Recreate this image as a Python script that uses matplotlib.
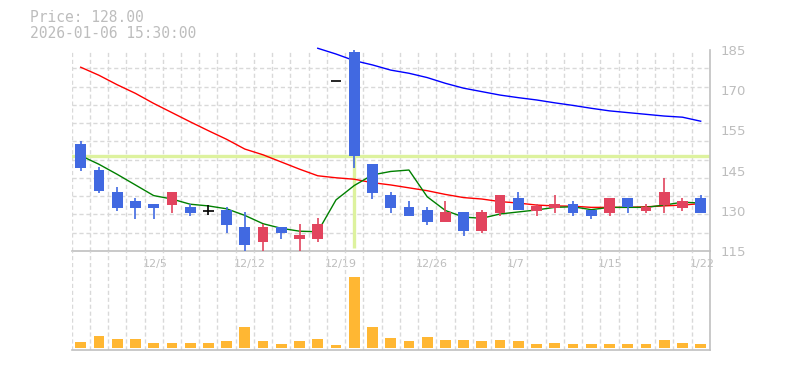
import matplotlib
matplotlib.use("Agg")
import matplotlib.pyplot as plt
import matplotlib.transforms as mtransforms
import numpy as np

# ==========================================
# DATA (daily candles, 2025-12-01 .. 2026-01-22)
# ==========================================
opens = [152.3, 143.3, 135.5, 132.4, 131.4, 131.1, 130.4, 129.0, 129.3, 123.4,
         118.1, 123.4, 119.3, 119.3, 174.2, 184.3, 145.3, 134.5, 130.3, 129.3,
         125.1, 128.6, 122.1, 128.3, 133.5, 129.0, 130.1, 131.4, 129.3, 128.3,
         133.5, 129.0, 131.1, 130.1, 133.5]
highs = [153.3, 144.3, 137.3, 133.5, 131.4, 135.5, 131.4, 131.1, 130.3, 128.6,
         124.5, 123.4, 124.4, 126.5, 174.2, 185.0, 145.3, 135.5, 132.4, 130.3,
         132.4, 128.6, 129.3, 134.5, 135.5, 131.3, 134.5, 132.4, 129.3, 133.5,
         133.5, 131.4, 140.5, 133.5, 134.5]
lows = [143.0, 135.3, 129.0, 126.3, 126.3, 128.3, 127.3, 127.4, 121.4, 115.1,
        115.1, 119.3, 115.1, 118.1, 174.2, 144.0, 133.2, 128.3, 127.3, 124.2,
        125.1, 120.3, 121.4, 127.3, 129.2, 127.3, 128.3, 127.3, 126.3, 127.3,
        128.3, 128.3, 128.3, 129.0, 128.3]
closes = [144.0, 136.0, 130.1, 130.1, 130.1, 135.5, 128.3, 129.0, 124.2, 117.2,
          123.4, 121.4, 120.6, 124.5, 174.2, 148.2, 135.3, 130.1, 127.3, 125.2,
          128.6, 122.1, 128.6, 134.5, 129.2, 130.6, 131.4, 128.3, 127.3, 133.5,
          130.2, 130.3, 135.5, 132.4, 128.3]
volumes = [60, 120, 90, 90, 50, 50, 50, 50, 70, 210,
           70, 40, 70, 90, 30, 710, 210, 100, 70, 110,
           80, 80, 70, 80, 70, 40, 50, 40, 40, 40,
           40, 40, 80, 50, 40]

ma_short = [148.2, 145.2, 141.7, 138.0, 134.3, 133.1, 131.3, 130.7, 129.7, 127.4,
            124.5, 122.9, 121.9, 121.7, 132.8, 137.8, 141.5, 142.7, 143.2, 133.9,
            129.1, 126.8, 126.4, 127.9, 128.6, 129.3, 130.2, 130.4, 129.4, 130.2,
            130.2, 130.2, 131.0, 132.0, 131.7]
ma_mid = [179.0, 176.2, 172.9, 169.9, 166.4, 163.2, 160.0, 156.9, 153.9, 150.5,
          148.5, 146.0, 143.5, 141.2, 140.5, 140.0, 138.8, 138.0, 137.0, 136.0,
          134.7, 133.6, 133.1, 132.2, 131.7, 131.0, 130.7, 130.6, 130.2, 130.2,
          130.2, 130.4, 130.7, 131.0, 131.5]
ma_long = [np.nan] * 13 + [185.6, 183.6, 181.3, 179.8, 178.0, 176.9, 175.4, 173.4,
                           171.7, 170.5, 169.3, 168.4, 167.6, 166.6, 165.7, 164.7,
                           163.8, 163.2, 162.6, 162.0, 161.6, 160.2]

x_tick_idx = [4, 9, 14, 19, 24, 29, 34]
x_tick_labels = ["12/5", "12/12", "12/19", "12/26", "1/7", "1/15", "1/22"]
y_tick_values = [115, 129, 143, 157, 171, 185]
y_tick_labels = ["115", "130", "145", "155", "170", "185"]
highlight_idx = 15

header_lines = ["Price: 128.00", "2026-01-06 15:30:00"]

# ==========================================
# STYLE
# ==========================================
UP = "#E2445E"
DOWN = "#4169E1"
VOL = "#FFB733"
GRID = "#d9d9d9"
FRAME = "#c0c0c0"
TEXT = "#bdbdbd"
MARK = "#DDF29E"
W, H, DPI = 785, 370, 100


def main() -> None:
    fig = plt.figure(figsize=(W / DPI, H / DPI), dpi=DPI)
    left, right = 71.6 / W, 709.8 / W
    ax = fig.add_axes([left, (H - 251) / H, right - left, 201 / H])
    axv = fig.add_axes([left, (H - 350) / H, right - left, 99 / H], sharex=ax)
    axv.set_facecolor("none")

    n = len(closes)
    x = np.arange(n)
    body_w = 0.59

    # moving averages (behind candles)
    ax.plot(x, ma_mid, color="#ff0000", lw=1.0, zorder=2)
    ax.plot(x, ma_short, color="#008000", lw=1.0, zorder=2)
    ax.plot(x, ma_long, color="#0000ff", lw=1.0, zorder=2, clip_on=False)

    # highlight crosshair on the selected day
    ax.axhline(closes[highlight_idx], color=MARK, lw=2.4, zorder=1)
    ax.vlines(highlight_idx, 115.9, closes[highlight_idx], color=MARK, lw=2.4, zorder=1)

    # candles
    for i in range(n):
        o, h, l, c = opens[i], highs[i], lows[i], closes[i]
        if c > o:
            col = UP
        elif c < o:
            col = DOWN
        else:
            col = "black"
        if h > l:
            ax.vlines(i, l, h, color=col, lw=1.2, zorder=3)
        if c == o:
            ax.hlines(c, i - body_w / 2, i + body_w / 2, color=col, lw=1.2, zorder=4)
        else:
            ax.bar(i, abs(c - o), bottom=min(o, c), width=body_w, color=col,
                   linewidth=0, zorder=4)

    # volume
    axv.bar(x, volumes, width=body_w, color=VOL, linewidth=0, zorder=3)

    # axes limits and grid
    ax.set_xlim(-0.5, n - 0.5)
    ax.set_ylim(115, 185)
    axv.set_ylim(-20, 970)

    grid_x = np.arange(-0.5, n, 1.0)
    for a in (ax, axv):
        a.set_xticks(grid_x, minor=True)
        a.grid(False)
        a.grid(True, which="minor", axis="x", color=GRID, lw=1, linestyle=(0, (3, 2)))
        a.tick_params(which="minor", length=0)
        for s in ("top", "left"):
            a.spines[s].set_visible(False)
        for s in ("bottom", "right"):
            a.spines[s].set_color(FRAME)
            a.spines[s].set_linewidth(1.2)
    ax.set_yticks(np.linspace(115, 185, 12), minor=True)
    ax.grid(True, which="minor", axis="y", color=GRID, lw=1, linestyle=(0, (3, 2)))
    ax.set_axisbelow(True)
    axv.set_axisbelow(True)

    # ticks
    ax.yaxis.tick_right()
    ax.set_yticks(y_tick_values, y_tick_labels)
    ax.tick_params(axis="y", which="major", length=0, pad=7.5, labelsize=9.5,
                   labelcolor=TEXT)
    ax.set_xticks(x_tick_idx, x_tick_labels)
    ax.tick_params(axis="x", which="major", length=0, pad=5.5, labelsize=8,
                   labelcolor=TEXT)
    shift = mtransforms.ScaledTranslation(-11.3 / DPI, 0, fig.dpi_scale_trans)
    for lab in ax.get_xticklabels():
        lab.set_horizontalalignment("left")
        lab.set_transform(lab.get_transform() + shift)
    axv.tick_params(axis="both", which="major", length=0, labelbottom=False,
                    labelleft=False)
    axv.set_yticks([])

    # header
    for k, line in enumerate(header_lines):
        fig.text(30 / W, 1 - (18 + 15.5 * k) / H, line, fontsize=10.5,
                 family="DejaVu Sans Mono", color=TEXT, va="center", ha="left")

    fig.savefig("out.png", dpi=DPI)
    plt.close(fig)


if __name__ == "__main__":
    main()
